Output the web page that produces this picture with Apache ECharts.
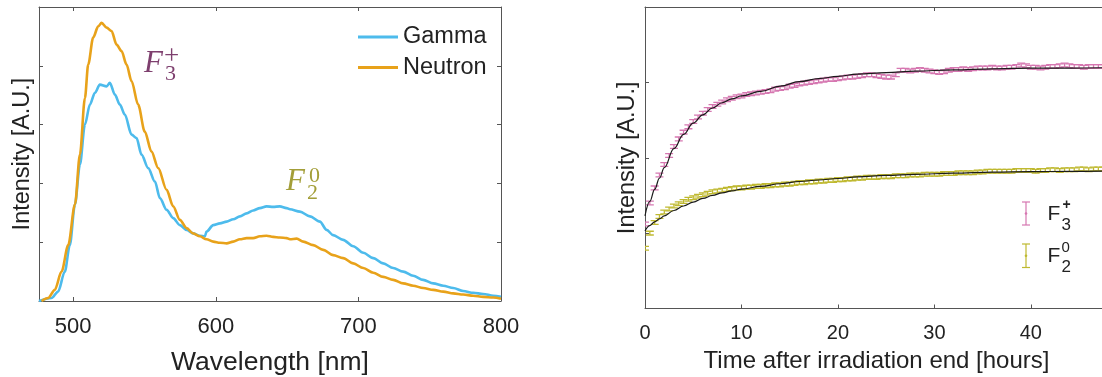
<!DOCTYPE html>
<html><head><meta charset="utf-8">
<script src="https://cdn.jsdelivr.net/npm/echarts@6/dist/echarts.min.js"></script>
<style>html,body{margin:0;padding:0;background:#fff}#c{width:1102px;height:377px}</style>
</head><body><div id="c"></div>
<script>
// ---- Left panel: emission spectra ----
const gammaWl = [476,484.8,489.4,494.1,497.6,501.2,504.7,508.2,511.7,515.2,518.7,523.4,525.7,529.2,532.7,536.2,540.9,544.4,547.9,552.6,557.3,560.8,565.5,570.1,574.8,579.5,584.1,588.8,592.3,593.5,598.2,602.9,607.6,612.2,616.9,621.6,626.2,630.9,635.6,640.2,644.9,649.6,652.0,659.0,666.0,673.0,677.7,682.3,689.3,696.4,703.4,710.4,717.4,724.4,731.4,738.4,745.4,752.5,759.5,766.5,773.5,780.5,787.5,794.6,800];
const gammaVal = [0,0.05,0.16,0.50,0.95,1.64,2.32,3.00,3.34,3.54,3.68,3.65,3.71,3.51,3.34,3.17,2.83,2.77,2.49,2.26,2.03,1.75,1.55,1.41,1.29,1.21,1.15,1.11,1.10,1.18,1.29,1.32,1.35,1.39,1.44,1.49,1.54,1.58,1.61,1.60,1.61,1.58,1.56,1.52,1.44,1.35,1.21,1.12,1.04,0.93,0.82,0.73,0.64,0.56,0.50,0.43,0.36,0.30,0.26,0.22,0.17,0.14,0.12,0.09,0.07];
const neutronWl = [477.8,482.4,487.1,491.8,496.5,501.2,504.7,508.2,510.5,514.0,517.5,519.9,523.4,526.9,530.4,533.9,537.4,540.9,545.5,550.2,554.9,559.6,565.5,570.1,574.8,579.5,584.1,588.8,593.5,598.2,602.9,607.6,612.2,616.9,621.6,626.2,630.9,635.6,640.2,644.9,649.6,652.0,656.7,661.3,668.3,675.3,682.3,689.3,696.4,703.4,710.4,717.4,724.4,731.4,738.4,745.4,752.5,759.5,766.5,773.5,780.5,787.5,794.6,800];
const neutronVal = [0,0.05,0.19,0.50,0.95,1.64,2.49,3.45,4.02,4.48,4.67,4.73,4.65,4.59,4.36,4.25,4.02,3.74,3.34,2.88,2.54,2.26,1.89,1.61,1.38,1.24,1.15,1.10,1.05,1.01,0.99,0.98,1.01,1.05,1.07,1.07,1.10,1.11,1.09,1.08,1.07,1.05,1.06,1.01,0.95,0.87,0.78,0.73,0.64,0.56,0.48,0.41,0.36,0.30,0.26,0.22,0.19,0.16,0.13,0.11,0.09,0.07,0.06,0.04];
const specTicks = [500,600,700,800];

// ---- Right panel: growth after irradiation ----
const timeH = [0,0.5,1,1.5,2,2.5,3,3.5,4,4.5,5,5.5,6,6.5,7,7.5,8,8.5,9,9.5,10,10.5,11,11.5,12,12.5,13,13.5,14,14.5,15,15.5,16,16.5,17,17.5,18,18.5,19,19.5,20,20.5,21,21.5,22,22.5,23,23.5,24,24.5,25,25.5,26,26.5,27,27.5,28,28.5,29,29.5,30,30.5,31,31.5,32,32.5,33,33.5,34,34.5,35,35.5,36,36.5,37,37.5,38,38.5,39,39.5,40,40.5,41,41.5,42,42.5,43,43.5,44,44.5,45,45.5,46,46.5,47,47.5];
const f3Val = [1.12,1.40,1.60,1.77,1.91,2.03,2.15,2.25,2.34,2.41,2.48,2.54,2.59,2.64,2.68,2.71,2.74,2.77,2.79,2.81,2.82,2.84,2.85,2.86,2.87,2.88,2.89,2.91,2.92,2.93,2.95,2.96,2.98,2.99,3.00,3.01,3.02,3.03,3.04,3.04,3.05,3.06,3.07,3.07,3.08,3.09,3.10,3.10,3.09,3.08,3.07,3.07,3.10,3.16,3.16,3.15,3.16,3.17,3.16,3.15,3.14,3.13,3.14,3.16,3.17,3.17,3.18,3.17,3.18,3.19,3.19,3.19,3.20,3.19,3.19,3.20,3.20,3.21,3.23,3.22,3.20,3.20,3.19,3.20,3.21,3.21,3.22,3.23,3.22,3.21,3.21,3.20,3.21,3.21,3.21,3.21];
const f2Val = [0.80,1.00,1.14,1.22,1.28,1.32,1.36,1.39,1.42,1.45,1.47,1.49,1.51,1.53,1.55,1.56,1.57,1.58,1.59,1.60,1.60,1.61,1.61,1.62,1.62,1.63,1.63,1.64,1.64,1.65,1.65,1.66,1.67,1.67,1.68,1.68,1.69,1.69,1.70,1.70,1.71,1.71,1.72,1.72,1.73,1.73,1.74,1.74,1.74,1.75,1.75,1.75,1.76,1.76,1.76,1.77,1.77,1.77,1.78,1.78,1.78,1.78,1.79,1.79,1.79,1.80,1.80,1.80,1.80,1.81,1.81,1.82,1.82,1.82,1.82,1.82,1.82,1.83,1.83,1.83,1.83,1.82,1.83,1.83,1.84,1.84,1.83,1.84,1.84,1.84,1.85,1.85,1.84,1.85,1.85,1.85];
const f3Err = 0.025;
const f2Err = 0.025;
const fitT = [0,0.5,1,1.5,2,3,4,5,6,7,8,9,10,12,14,16,18,20,22,25,28,32,36,40,44,48];
const f3Fit = [1.23,1.42,1.58,1.73,1.87,2.12,2.31,2.46,2.57,2.66,2.73,2.78,2.82,2.88,2.95,3.01,3.05,3.08,3.11,3.13,3.15,3.165,3.18,3.19,3.19,3.195];
const f2Fit = [1.03,1.10,1.15,1.19,1.23,1.30,1.36,1.41,1.46,1.50,1.535,1.56,1.585,1.62,1.655,1.685,1.705,1.725,1.745,1.765,1.78,1.795,1.81,1.815,1.82,1.825];
const timeTicks = [0,10,20,30,40];

const C = {
  gamma: '#4DBBEC', neutron: '#E8A21A', f3: '#D677B1', f2: '#BFB930',
  axis: '#555555', text: '#222222', f3Label: '#7E3F6E', f2Label: '#A39E38'
};
const SANS = '"Liberation Sans", Arial, sans-serif';
const SERIF = '"Liberation Serif", "DejaVu Serif", serif';

function pairs(xs, ys) { return xs.map((x, i) => [x, ys[i]]); }

function axisBase(extra) {
  return Object.assign({
    type: 'value',
    axisLine: { show: true, onZero: false, lineStyle: { color: C.axis, width: 1 } },
    splitLine: { show: false },
  }, extra);
}

function errRender(color) {
  return function (params, api) {
    const t = api.value(0), v = api.value(1), e = api.value(2);
    const lo = api.coord([t, v - e]);
    const hi = api.coord([t, v + e]);
    const hw = 4;
    const st = { stroke: color, lineWidth: 1.3 };
    return {
      type: 'group',
      children: [
        { type: 'line', shape: { x1: lo[0], y1: lo[1], x2: hi[0], y2: hi[1] }, style: st },
        { type: 'line', shape: { x1: lo[0] - hw, y1: lo[1], x2: lo[0] + hw, y2: lo[1] }, style: st },
        { type: 'line', shape: { x1: hi[0] - hw, y1: hi[1], x2: hi[0] + hw, y2: hi[1] }, style: st }
      ]
    };
  };
}

const chart = echarts.init(document.getElementById('c'), null, { renderer: 'canvas' });

const option = {
  animation: false,
  backgroundColor: '#ffffff',
  textStyle: { fontFamily: SANS },
  grid: [
    { left: 39, top: 7, width: 462, height: 294, outerBoundsMode: 'none', containLabel: false },
    { left: 645, top: 7, width: 463, height: 301.5, outerBoundsMode: 'none', containLabel: false }
  ],
  legend: {
    data: ['Gamma', 'Neutron'],
    orient: 'vertical',
    left: 358, top: 25, padding: 0,
    itemWidth: 40, itemHeight: 3, itemGap: 6.5,
    icon: 'rect',
    textStyle: { fontSize: 23.5, color: C.text, fontFamily: SANS }
  },
  xAxis: [
    axisBase({ gridIndex: 0, position: 'bottom', min: 476, max: 800,
      axisTick: { inside: true, length: 4, lineStyle: { color: C.axis }, customValues: specTicks },
      axisLabel: { customValues: specTicks, fontSize: 22, color: C.text, margin: 15, fontFamily: SANS },
      name: 'Wavelength [nm]', nameLocation: 'middle', nameGap: 48,
      nameTextStyle: { fontSize: 26.5, color: C.text, fontFamily: SANS } }),
    axisBase({ gridIndex: 0, position: 'top', min: 476, max: 800,
      axisTick: { inside: true, length: 4, lineStyle: { color: C.axis }, customValues: specTicks },
      axisLabel: { show: false } }),
    axisBase({ gridIndex: 1, position: 'bottom', min: 0, max: 48,
      axisTick: { inside: true, length: 4, lineStyle: { color: C.axis }, customValues: timeTicks },
      axisLabel: { customValues: timeTicks, fontSize: 20, color: C.text, margin: 15, fontFamily: SANS },
      name: 'Time after irradiation end [hours]', nameLocation: 'middle', nameGap: 41,
      nameTextStyle: { fontSize: 24, color: C.text, fontFamily: SANS } }),
    axisBase({ gridIndex: 1, position: 'top', min: 0, max: 48,
      axisTick: { inside: true, length: 4, lineStyle: { color: C.axis }, customValues: timeTicks },
      axisLabel: { show: false } })
  ],
  yAxis: [
    axisBase({ gridIndex: 0, position: 'left', min: 0, max: 5, interval: 1,
      axisTick: { inside: true, length: 4, lineStyle: { color: C.axis } },
      axisLabel: { show: false },
      name: 'Intensity [A.U.]', nameLocation: 'middle', nameRotate: 90, nameGap: 4,
      nameTextStyle: { fontSize: 23.5, color: C.text, fontFamily: SANS } }),
    axisBase({ gridIndex: 0, position: 'right', min: 0, max: 5, interval: 1,
      axisTick: { inside: true, length: 4, lineStyle: { color: C.axis } },
      axisLabel: { show: false } }),
    axisBase({ gridIndex: 1, position: 'left', min: 0, max: 4, interval: 1,
      axisTick: { inside: true, length: 4, lineStyle: { color: C.axis } },
      axisLabel: { show: false },
      name: 'Intensity [A.U.]', nameLocation: 'middle', nameRotate: 90, nameGap: 5,
      nameTextStyle: { fontSize: 23.5, color: C.text, fontFamily: SANS } }),
    axisBase({ gridIndex: 1, position: 'right', min: 0, max: 4, interval: 1,
      axisTick: { inside: true, length: 4, lineStyle: { color: C.axis } },
      axisLabel: { show: false } })
  ],
  series: [
    { name: 'Gamma', type: 'line', xAxisIndex: 0, yAxisIndex: 0, data: pairs(gammaWl, gammaVal),
      symbol: 'none', smooth: 0.3, smoothMonotone: 'x',
      lineStyle: { color: C.gamma, width: 2.6 }, itemStyle: { color: C.gamma } },
    { name: 'Neutron', type: 'line', xAxisIndex: 0, yAxisIndex: 0, data: pairs(neutronWl, neutronVal),
      symbol: 'none', smooth: 0.3, smoothMonotone: 'x',
      lineStyle: { color: C.neutron, width: 2.6 }, itemStyle: { color: C.neutron } },
    { name: 'F3err', type: 'custom', xAxisIndex: 2, yAxisIndex: 2, clip: true,
      data: timeH.map((t, i) => [t, f3Val[i], f3Err]),
      encode: { x: 0, y: 1 }, renderItem: errRender(C.f3), z: 2 },
    { name: 'F2err', type: 'custom', xAxisIndex: 2, yAxisIndex: 2, clip: true,
      data: timeH.map((t, i) => [t, f2Val[i], f2Err]),
      encode: { x: 0, y: 1 }, renderItem: errRender(C.f2), z: 2 },
    { name: 'F3fit', type: 'line', xAxisIndex: 2, yAxisIndex: 2, data: pairs(fitT, f3Fit),
      symbol: 'none', smooth: 0.4, smoothMonotone: 'x', clip: true,
      lineStyle: { color: '#1a1a1a', width: 1.2 }, z: 5 },
    { name: 'F2fit', type: 'line', xAxisIndex: 2, yAxisIndex: 2, data: pairs(fitT, f2Fit),
      symbol: 'none', smooth: 0.4, smoothMonotone: 'x', clip: true,
      lineStyle: { color: '#1a1a1a', width: 1.2 }, z: 5 }
  ],
  graphic: [
    // F3+ label (left panel)
    { type: 'text', x: 144, y: 63.5, style: { text: 'F', font: 'italic 31px ' + SERIF, fill: C.f3Label, align: 'left', verticalAlign: 'middle' } },
    { type: 'text', x: 165, y: 74, style: { text: '3', font: '22px ' + SERIF, fill: C.f3Label, align: 'left', verticalAlign: 'middle' } },
    { type: 'text', x: 164, y: 57, style: { text: '+', font: '27px ' + SERIF, fill: C.f3Label, align: 'left', verticalAlign: 'middle' } },
    // F2^0 label (left panel)
    { type: 'text', x: 286, y: 181.5, style: { text: 'F', font: 'italic 31px ' + SERIF, fill: C.f2Label, align: 'left', verticalAlign: 'middle' } },
    { type: 'text', x: 307, y: 193, style: { text: '2', font: '22px ' + SERIF, fill: C.f2Label, align: 'left', verticalAlign: 'middle' } },
    { type: 'text', x: 309, y: 176, style: { text: '0', font: '22px ' + SERIF, fill: C.f2Label, align: 'left', verticalAlign: 'middle' } },
    // right legend: F3+
    { type: 'line', shape: { x1: 1026, y1: 202, x2: 1026, y2: 225 }, style: { stroke: C.f3, lineWidth: 1.2 } },
    { type: 'line', shape: { x1: 1022, y1: 202, x2: 1030, y2: 202 }, style: { stroke: C.f3, lineWidth: 1.2 } },
    { type: 'line', shape: { x1: 1022, y1: 225, x2: 1030, y2: 225 }, style: { stroke: C.f3, lineWidth: 1.2 } },
    { type: 'circle', shape: { cx: 1026, cy: 213.5, r: 1.3 }, style: { fill: C.f3 } },
    { type: 'text', x: 1047.5, y: 214.5, style: { text: 'F', font: '21px ' + SANS, fill: C.text, align: 'left', verticalAlign: 'middle' } },
    { type: 'text', x: 1061.5, y: 225, style: { text: '3', font: '17px ' + SANS, fill: C.text, align: 'left', verticalAlign: 'middle' } },
    { type: 'text', x: 1062.5, y: 205, style: { text: '+', font: 'bold 14px ' + SANS, fill: C.text, align: 'left', verticalAlign: 'middle' } },
    // right legend: F2^0
    { type: 'line', shape: { x1: 1026, y1: 244, x2: 1026, y2: 267.5 }, style: { stroke: C.f2, lineWidth: 1.2 } },
    { type: 'line', shape: { x1: 1022, y1: 244, x2: 1030, y2: 244 }, style: { stroke: C.f2, lineWidth: 1.2 } },
    { type: 'line', shape: { x1: 1022, y1: 267.5, x2: 1030, y2: 267.5 }, style: { stroke: C.f2, lineWidth: 1.2 } },
    { type: 'circle', shape: { cx: 1026, cy: 255.7, r: 1.3 }, style: { fill: C.f2 } },
    { type: 'text', x: 1047.5, y: 256, style: { text: 'F', font: '21px ' + SANS, fill: C.text, align: 'left', verticalAlign: 'middle' } },
    { type: 'text', x: 1061.5, y: 267, style: { text: '2', font: '17px ' + SANS, fill: C.text, align: 'left', verticalAlign: 'middle' } },
    { type: 'text', x: 1061.5, y: 248, style: { text: '0', font: '15px ' + SANS, fill: C.text, align: 'left', verticalAlign: 'middle' } }
  ]
};
chart.setOption(option);
</script>
</body></html>
